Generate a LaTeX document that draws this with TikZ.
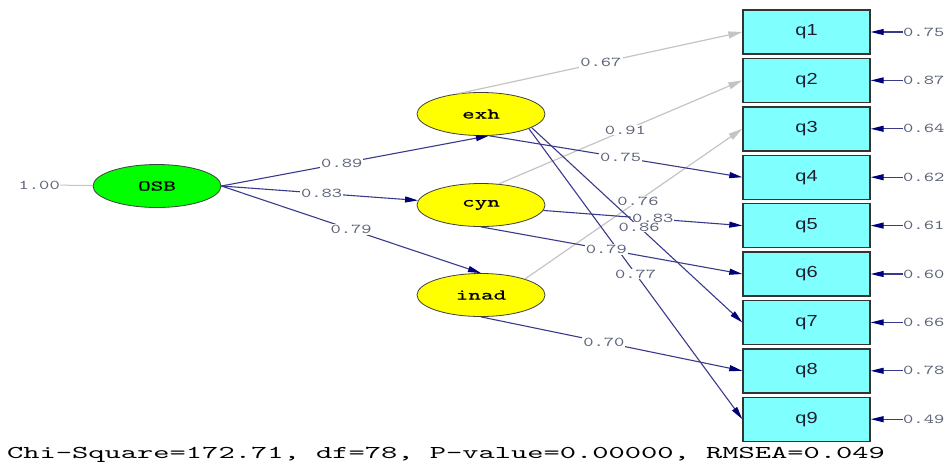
\documentclass[tikz,border=0pt]{standalone}
\usepackage{fontspec}
\usepackage{tikz}
\usetikzlibrary{arrows.meta,shapes.geometric}
\newfontfamily\lismono{lmmono10-regular.otf}[FakeStretch=1.45]
\newfontfamily\lislat{lmmono10-regular.otf}[FakeStretch=1.6,FakeBold=0.6]
\newfontfamily\lisfoot{lmmono10-regular.otf}[FakeStretch=1.72]
\newfontfamily\lissans[FakeStretch=1.25]{Liberation Sans}
\definecolor{boxfill}{HTML}{80FFFF}
\definecolor{latfill}{HTML}{FFFF00}
\definecolor{rootfill}{HTML}{00FF00}
\definecolor{pathnavy}{HTML}{3A3A8C}
\definecolor{tipnavy}{HTML}{00007A}
\definecolor{pathgray}{HTML}{C4C4C4}
\definecolor{numgray}{HTML}{5C6478}

\begin{document}
\begin{tikzpicture}[x=1pt,y=1pt,
  latent/.style={ellipse,draw=black!75,line width=0.8pt,minimum width=128pt,minimum height=43pt,inner sep=0pt,font=\lislat\fontsize{15}{15}\selectfont},
  item/.style={rectangle,draw=black!80,line width=1.4pt,fill=boxfill,minimum width=127pt,minimum height=44pt,inner sep=0pt,text={rgb,255:red,30;green,30;blue,50},font=\lissans\fontsize{16}{16}\selectfont},
  num/.style={fill=white,inner sep=1pt,text=numgray,font=\lismono\fontsize{13.5}{14}\selectfont},
  load/.style={draw=pathnavy,line width=1.1pt,-{Triangle[length=13pt,width=6pt,color=tipnavy]}},
  faint/.style={draw=pathgray,line width=1.2pt,-{Triangle[length=14pt,width=7pt,color=pathgray]}}]
\useasboundingbox (0,0) rectangle (945,-464);

\node[latent,fill=rootfill] (OSB) at (157,-186) {OSB};
\node[latent,fill=latfill] (exh) at (481,-114) {exh};
\node[latent,fill=latfill] (cyn) at (481,-205) {cyn};
\node[latent,fill=latfill] (inad) at (481,-295) {inad};
\node[num,fill=none,anchor=east,inner sep=0pt] (var) at (60,-185) {1.00};
\draw[draw=pathgray,line width=1pt] (var) -- (OSB);

\foreach \i/\e in {1/0.75,2/0.87,3/0.64,4/0.62,5/0.61,6/0.60,7/0.66,8/0.78,9/0.49}{
  \node[item] (q\i) at (806.5,{-32-48.4*(\i-1)}) {q\i};
  \node[num,fill=none,anchor=west,inner sep=0pt] (e\i) at (903,{-32-48.4*(\i-1)}) {\e};
  \draw[load] (e\i.west) -- (q\i.east);
}

\draw[load] (OSB.east) -- node[num,pos=0.45]{0.89} (exh.-70);
\draw[load] (OSB.east) -- node[num,pos=0.51]{0.83} (cyn);
\draw[load] (OSB.east) -- node[num,pos=0.5]{0.79} (inad.north);

\draw[faint] (exh.136) -- node[num,pos=0.5]{0.67} (q1.west);
\draw[faint] (cyn.50) -- node[num,pos=0.52]{0.91} (q2.west);
\draw[faint] (inad.20) -- node[num,pos=0.52]{0.76} (q3.west);

\draw[load] (exh.-70) -- node[num,pos=0.52]{0.75} (q4.west);
\draw[load] (exh.-17) -- node[num,pos=0.5]{0.77} (q9.west);
\draw[load] (cyn.-5) -- node[num,pos=0.55]{0.83} (q5.west);
\draw[load] (exh.-15) -- node[num,pos=0.51]{0.86} (q7.west);
\draw[load] (cyn.south) -- node[num,pos=0.48]{0.79} (q6.west);
\draw[load] (inad.south) -- node[num,pos=0.47]{0.70} (q8.west);

\node[anchor=base west,inner sep=0pt,font=\lisfoot\fontsize{18}{19}\selectfont] (fit) at (7,-458.7) {Chi-Square=172.71, df=78, P-value=0.00000, RMSEA=0.049};
\end{tikzpicture}
\end{document}
